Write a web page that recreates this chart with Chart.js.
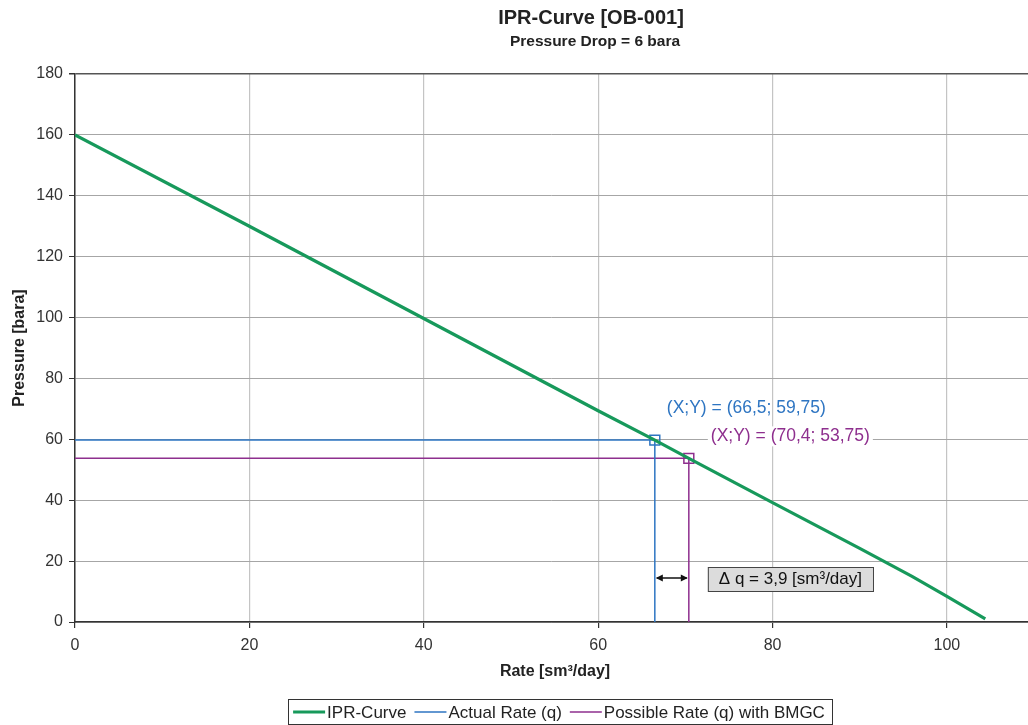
<!DOCTYPE html>
<html>
<head>
<meta charset="utf-8">
<title>IPR-Curve [OB-001]</title>
<script src="https://cdn.jsdelivr.net/npm/chart.js@4.4.1/dist/chart.umd.min.js"></script>
<style>
    html, body { margin: 0; padding: 0; background: #fff; }
    #wrap { width: 1028px; height: 725px; }
</style>
</head>
<body>
<div id="wrap"><canvas id="iprChart" width="1028" height="725"></canvas></div>
<script>
// Data
const iprRate = [0, 20, 40, 60, 66.5, 70.4, 80, 90, 96, 100, 104.4];
const iprPressure = [160, 130, 99.7, 69.4, 59.75, 53.75, 39.2, 24.2, 15, 8.4, 1];

const actualPoint = [66.5, 59.75];     // rate, pressure
const possiblePoint = [70.4, 53.75];   // rate, pressure

const xTicks = [0, 20, 40, 60, 80, 100];
const yTicks = [0, 20, 40, 60, 80, 100, 120, 140, 160, 180];

const seriesLabels = ['IPR-Curve', 'Actual Rate (q)', 'Possible Rate (q) with BMGC'];

// Colors
const GREEN = '#17995b';
const BLUE = '#2e75c2';
const PURPLE = '#8e2f8e';
const FONT = '"Liberation Sans", Arial, sans-serif';

function fmt(v) {
    return String(v).replace('.', ',');
}

// L-shaped helper line from y-axis to point and down to x-axis
function guideLine(pt) {
    return [{ x: 0, y: pt[1] }, { x: pt[0], y: pt[1] }, { x: pt[0], y: 0 }];
}

// Titles, annotations and legend
const decorPlugin = {
    id: 'decor',
    afterDraw(chart) {
        const ctx = chart.ctx;
        const xs = chart.scales.x;
        const ys = chart.scales.y;
        const area = chart.chartArea;
        ctx.save();

        // chart titles
        ctx.fillStyle = '#222';
        ctx.textAlign = 'center';
        ctx.textBaseline = 'middle';
        ctx.font = 'bold 20px ' + FONT;
        ctx.fillText('IPR-Curve [OB-001]', 591, 18);
        ctx.font = 'bold 15.5px ' + FONT;
        ctx.fillText('Pressure Drop = 6 bara', 595, 42);

        // axis titles
        ctx.font = 'bold 16px ' + FONT;
        ctx.fillText('Rate [sm³/day]', 555, 672);
        ctx.save();
        ctx.translate(20, (area.top + area.bottom) / 2);
        ctx.rotate(-Math.PI / 2);
        ctx.fillText('Pressure [bara]', 0, 0);
        ctx.restore();

        // point labels
        const ax = xs.getPixelForValue(actualPoint[0]);
        const ay = ys.getPixelForValue(actualPoint[1]);
        const px = xs.getPixelForValue(possiblePoint[0]);
        const py = ys.getPixelForValue(possiblePoint[1]);

        ctx.font = '17.5px ' + FONT;
        ctx.textAlign = 'left';
        ctx.fillStyle = BLUE;
        ctx.fillText('(X;Y) = (' + fmt(actualPoint[0]) + '; ' + fmt(actualPoint[1]) + ')', ax + 12, ay - 32);

        const pTxt = '(X;Y) = (' + fmt(possiblePoint[0]) + '; ' + fmt(possiblePoint[1]) + ')';
        const pw = ctx.measureText(pTxt).width;
        ctx.fillStyle = '#fff';
        ctx.fillRect(px + 19, py - 32, pw + 6, 20);
        ctx.fillStyle = PURPLE;
        ctx.fillText(pTxt, px + 22, py - 22);

        // delta arrow
        const arrowY = ys.getPixelForValue(0) - 44;
        ctx.strokeStyle = '#111';
        ctx.fillStyle = '#111';
        ctx.lineWidth = 1.5;
        ctx.beginPath();
        ctx.moveTo(ax + 2, arrowY);
        ctx.lineTo(px - 2, arrowY);
        ctx.stroke();
        [[ax + 1, 1], [px - 1, -1]].forEach(([tx, dir]) => {
            ctx.beginPath();
            ctx.moveTo(tx, arrowY);
            ctx.lineTo(tx + dir * 7, arrowY - 3.5);
            ctx.lineTo(tx + dir * 7, arrowY + 3.5);
            ctx.closePath();
            ctx.fill();
        });

        // delta box
        ctx.font = '17px ' + FONT;
        const dq = Math.round((possiblePoint[0] - actualPoint[0]) * 10) / 10;
        const dTxt = 'Δ q = ' + fmt(dq) + ' [sm³/day]';
        const dw = ctx.measureText(dTxt).width;
        const bx = px + 19;
        const by = arrowY - 11;
        ctx.fillStyle = '#dcdcdc';
        ctx.fillRect(bx, by, dw + 22, 24);
        ctx.strokeStyle = '#444';
        ctx.lineWidth = 1;
        ctx.strokeRect(bx + 0.5, by + 0.5, dw + 22, 24);
        ctx.fillStyle = '#111';
        ctx.fillText(dTxt, bx + 11, by + 12.5);

        // legend
        const ds = chart.data.datasets.filter(d => d.label);
        ctx.font = '17px ' + FONT;
        const sample = 32;
        let total = 0;
        ds.forEach(d => { total += sample + 3 + ctx.measureText(d.label).width + 7; });
        const lx0 = 560 - (total + 4) / 2;
        const ly = 712;
        ctx.strokeStyle = '#333';
        ctx.lineWidth = 1;
        ctx.strokeRect(Math.round(lx0) + 0.5, 699.5, Math.round(total + 4), 25);
        let lx = lx0 + 5;
        ds.forEach(d => {
            ctx.strokeStyle = d.borderColor;
            ctx.lineWidth = d.borderWidth;
            ctx.beginPath();
            ctx.moveTo(lx, ly);
            ctx.lineTo(lx + sample, ly);
            ctx.stroke();
            ctx.fillStyle = '#222';
            ctx.fillText(d.label, lx + sample + 2, ly + 1);
            lx += sample + 3 + ctx.measureText(d.label).width + 7;
        });

        ctx.restore();
    }
};

document.addEventListener('DOMContentLoaded', function () {
    const ctx = document.getElementById('iprChart').getContext('2d');

    new Chart(ctx, {
        type: 'scatter',
        data: {
            datasets: [
                {
                    label: seriesLabels[0],
                    data: iprRate.map((r, i) => ({ x: r, y: iprPressure[i] })),
                    showLine: true,
                    borderColor: GREEN,
                    backgroundColor: GREEN,
                    borderWidth: 3.2,
                    pointRadius: 0,
                    tension: 0,
                    order: 1
                },
                {
                    label: seriesLabels[1],
                    data: guideLine(actualPoint),
                    showLine: true,
                    borderColor: BLUE,
                    backgroundColor: BLUE,
                    borderWidth: 1.5,
                    pointStyle: 'rect',
                    pointRadius: [0, 7, 0],
                    pointBorderColor: BLUE,
                    pointBackgroundColor: 'rgba(0,0,0,0)',
                    pointBorderWidth: 1.5,
                    order: 2
                },
                {
                    label: seriesLabels[2],
                    data: guideLine(possiblePoint),
                    showLine: true,
                    borderColor: PURPLE,
                    backgroundColor: PURPLE,
                    borderWidth: 1.5,
                    pointStyle: 'rect',
                    pointRadius: [0, 7, 0],
                    pointBorderColor: PURPLE,
                    pointBackgroundColor: 'rgba(0,0,0,0)',
                    pointBorderWidth: 1.5,
                    order: 3
                }
            ]
        },
        options: {
            responsive: false,
            animation: false,
            layout: { padding: { left: 0, top: 74, right: 0, bottom: 0 } },
            scales: {
                x: {
                    type: 'linear',
                    min: 0,
                    max: 109.3,
                    afterBuildTicks: s => { s.ticks = xTicks.map(v => ({ value: v })); },
                    afterFit: s => { s.height = 103; },
                    grid: { color: '#c4c4c4', lineWidth: 1.2, tickLength: 6, tickColor: '#333' },
                    border: { color: '#333', width: 1.5 },
                    ticks: {
                        autoSkip: false,
                        maxRotation: 0,
                        padding: 8,
                        color: '#333',
                        font: { family: FONT, size: 16 },
                        callback: v => v
                    }
                },
                y: {
                    min: 0,
                    max: 180,
                    afterBuildTicks: s => { s.ticks = yTicks.map(v => ({ value: v })); },
                    afterFit: s => { s.width = 75; },
                    grid: {
                        color: c => (c.tick && c.tick.value === 180) ? '#555' : '#a6a6a6',
                        lineWidth: c => (c.tick && c.tick.value === 180) ? 1.5 : 1,
                        tickLength: 6,
                        tickColor: '#333'
                    },
                    border: { color: '#333', width: 1.5 },
                    ticks: {
                        padding: 6,
                        color: '#333',
                        font: { family: FONT, size: 16 },
                        callback: v => v
                    }
                }
            },
            plugins: {
                legend: { display: false },
                title: { display: false },
                tooltip: { enabled: false }
            }
        },
        plugins: [decorPlugin]
    });
});
</script>
</body>
</html>
